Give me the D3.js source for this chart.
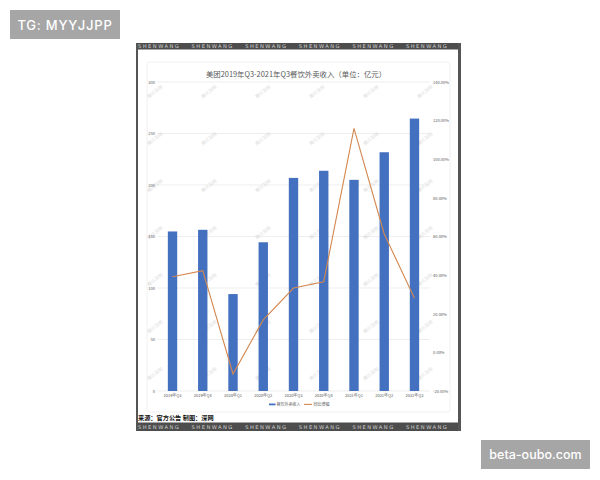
<!DOCTYPE html>
<html><head><meta charset="utf-8">
<script src="https://cdn.jsdelivr.net/npm/d3@7"></script>
<style>
html,body{margin:0;padding:0;background:#fff;}
svg{display:block;font-family:"Noto Sans CJK SC","Noto Sans",sans-serif;}
</style></head>
<body>
<svg id="c" width="600" height="480"></svg>
<script>
const categories = ["2019年Q3","2019年Q4","2020年Q1","2020年Q2","2020年Q3","2020年Q4","2021年Q1","2021年Q2","2021年Q3"];
const revenue = [154.9, 156.5, 94.1, 144.4, 206.9, 213.8, 205.0, 231.8, 264.5];
const growth = [39.2, 42.3, -11.2, 16.8, 33.3, 36.6, 116.0, 61.3, 28.0];
const leftTicks = [0, 50, 100, 150, 200, 250, 300];
const rightTicks = [-20, 0, 20, 40, 60, 80, 100, 120, 140];
const title = "美团2019年Q3-2021年Q3餐饮外卖收入（单位：亿元）";
const seriesNames = ["餐饮外卖收入", "同比增幅"];
const sourceText = "来源：官方公告  制图：深网";

const svg = d3.select("#c");

// corner watermark boxes
svg.append("rect").attr("x",10).attr("y",10).attr("width",110).attr("height",29).attr("fill","#a6a6a6");
svg.append("text").attr("x",65).attr("y",29.5).attr("text-anchor","middle").attr("fill","#fff")
  .attr("font-size",13).attr("font-weight",500).attr("letter-spacing",0.8)
  .style("font-family","Inter, 'Noto Sans', sans-serif").text("TG: MYYJJPP");
svg.append("rect").attr("x",481).attr("y",440).attr("width",109).attr("height",29).attr("fill","#a6a6a6");
svg.append("text").attr("x",535.5).attr("y",459).attr("text-anchor","middle").attr("fill","#fff")
  .attr("font-size",12.5).attr("font-weight",500)
  .style("font-family","Inter, 'Noto Sans', sans-serif").text("beta-oubo.com");

// frame
const F = {x0:136, x1:461, y0:43, y1:431};
svg.append("rect").attr("x",F.x0).attr("y",F.y0).attr("width",F.x1-F.x0).attr("height",F.y1-F.y0).attr("fill","#fff");
// chart area border
svg.append("rect").attr("x",147).attr("y",62).attr("width",303).attr("height",350)
  .attr("fill","none").attr("stroke","#ececec").attr("stroke-width",0.8).attr("rx",2);

// bands
function band(y, h){
  svg.append("rect").attr("x",F.x0).attr("y",y).attr("width",F.x1-F.x0).attr("height",h).attr("fill","#4d4d4d");
  for(let i=0;i<6;i++){
    svg.append("text").attr("x",138+i*53.6).attr("y",y+h/2+1.8).attr("fill","#d0d0d0")
      .attr("font-size",5.2).attr("letter-spacing",1.45)
      .style("font-family","'DejaVu Sans', sans-serif").text("SHENWANG");
  }
}
band(43, 6.5);
band(422.5, 8.5);
svg.append("rect").attr("x",F.x0).attr("y",F.y0).attr("width",2).attr("height",F.y1-F.y0).attr("fill","#555");
svg.append("rect").attr("x",F.x1-3).attr("y",F.y0).attr("width",3).attr("height",F.y1-F.y0).attr("fill","#555");

// scales
const x = d3.scaleBand().domain(categories).range([157.4, 429.6]).paddingInner(0.69).paddingOuter(0.345);
const xp = d3.scalePoint().domain(categories).range([157.4, 429.6]).padding(0.5);
const yL = d3.scaleLinear().domain([0,300]).range([391, 82]);
const yR = d3.scaleLinear().domain([-20,140]).range([391, 82]);

// gridlines
svg.append("g").selectAll("line").data(leftTicks).join("line")
  .attr("x1",157.4).attr("x2",429.6).attr("y1",d=>yL(d)).attr("y2",d=>yL(d))
  .attr("stroke","#e6e6e6").attr("stroke-width",0.7);

// faint watermarks
const wm = svg.append("g");
for(let j=0;j<7;j++){
  for(let i=0;i<6;i++){
    const wx = 156 + i*54;
    const wy = 93 + j*47;
    wm.append("text").attr("transform",`translate(${wx},${wy}) rotate(-38)`)
      .attr("text-anchor","middle").attr("font-size",4.5).attr("fill","#dcdcdc").text("腾讯深网");
  }
}

// title
svg.append("text").attr("x",296).attr("y",76.5).attr("text-anchor","middle").attr("font-size",7.4)
  .attr("fill","#595959").text(title);

// bars
svg.append("g").selectAll("rect").data(revenue).join("rect")
  .attr("x",(d,i)=>x(categories[i])).attr("width",x.bandwidth())
  .attr("y",d=>yL(d)).attr("height",d=>yL(0)-yL(d)).attr("fill","#4470C0");

// line
const line = d3.line().x((d,i)=>xp(categories[i])).y(d=>yR(d));
svg.append("path").datum(growth).attr("d",line).attr("fill","none")
  .attr("stroke","#D4874F").attr("stroke-width",1.1);

// axes
const axL = svg.append("g").attr("transform","translate(157.4,0)")
  .call(d3.axisLeft(yL).tickValues(leftTicks).tickSize(0).tickPadding(2.5));
const axR = svg.append("g").attr("transform","translate(429.6,0)")
  .call(d3.axisRight(yR).tickValues(rightTicks).tickSize(0).tickPadding(3.5).tickFormat(d=>d.toFixed(2)+"%"));
const axB = svg.append("g").attr("transform","translate(0,391)")
  .call(d3.axisBottom(x).tickSize(0).tickPadding(3));
[axL,axR,axB].forEach(a=>{
  a.select(".domain").remove();
  a.selectAll("text").attr("font-size",4).attr("fill","#595959").style("font-family","'Noto Sans CJK SC', sans-serif");
});

// legend
const lg = svg.append("g");
lg.append("rect").attr("x",269).attr("y",403.5).attr("width",6.5).attr("height",1.8).attr("fill","#4470C0");
lg.append("text").attr("x",276.5).attr("y",406).attr("font-size",4).attr("fill","#595959").text(seriesNames[0]);
lg.append("line").attr("x1",304).attr("x2",312).attr("y1",404.4).attr("y2",404.4).attr("stroke","#D4874F").attr("stroke-width",1.1);
lg.append("text").attr("x",313.5).attr("y",406).attr("font-size",4).attr("fill","#595959").text(seriesNames[1]);

// source
svg.append("text").attr("x",138).attr("y",419.5).attr("font-size",6.2).attr("font-weight",700)
  .attr("fill","#111").text(sourceText);
</script>
</body></html>
